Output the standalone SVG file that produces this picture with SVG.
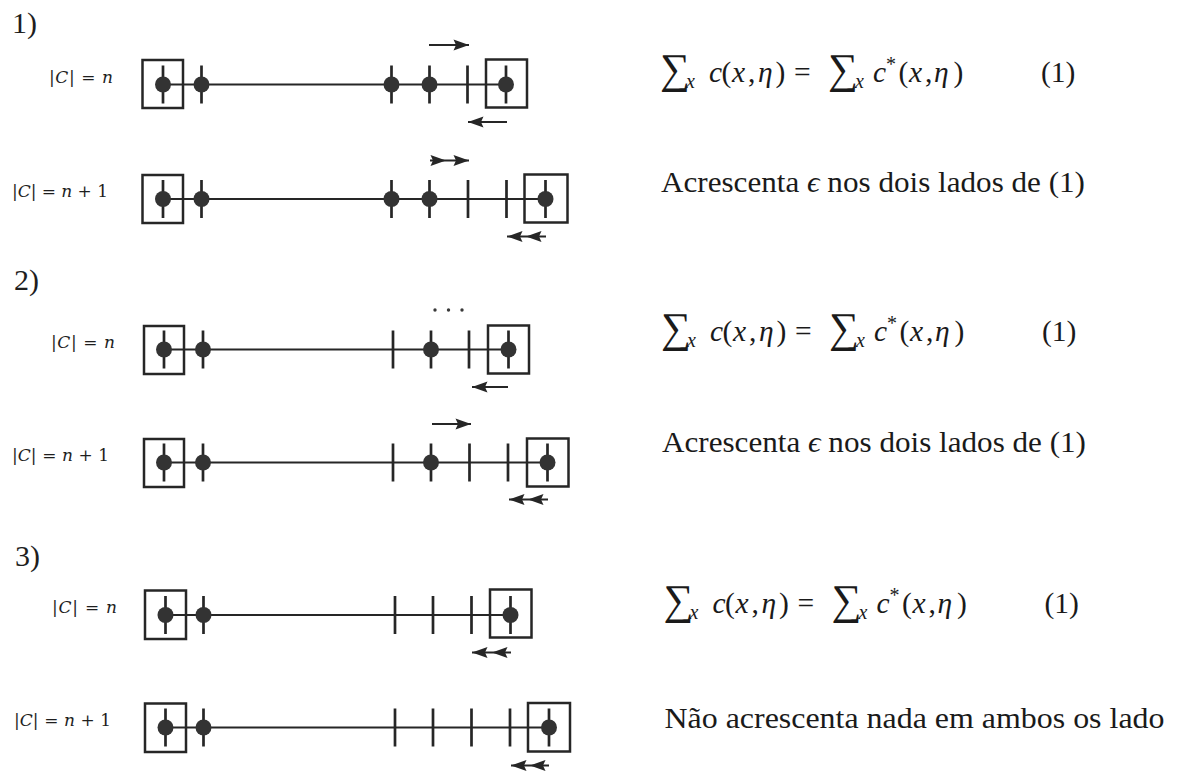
<svg xmlns="http://www.w3.org/2000/svg" width="1178" height="774" viewBox="0 0 1178 774">
<style>
.fr{fill:none;stroke:#262626;stroke-width:2.5}
.ln{stroke:#262626;stroke-width:2.1;fill:none}
.tk{stroke:#262626;stroke-width:2.7;fill:none}
.dt{fill:#333}
.ar{stroke:#262626;stroke-width:2.2;fill:none}
.lbl{font-family:"DejaVu Serif",serif;font-size:17px;fill:#1e1e1e}
.it{font-style:italic}
.tx{font-family:"Liberation Serif","DejaVu Serif",serif;font-size:29.5px;fill:#1a1a1a}
.sm{font-size:20px}
.sg{font-size:42px}
.sec{font-family:"Liberation Serif","DejaVu Serif",serif;font-size:30px;fill:#1e1e1e}
.el{fill:#3a3a3a}
</style>
<defs>
<marker id="ah" viewBox="-17 -7 18 14" refX="0" refY="0" markerWidth="18" markerHeight="14" markerUnits="userSpaceOnUse" orient="auto">
<path d="M0,0 L-15.5,-5.5 L-13,0 L-15.5,5.5 Z" fill="#262626"/>
</marker>
<g id="eq">
<text class="tx" y="0"><tspan x="-1" y="1" class="sg">∑</tspan><tspan x="25" y="6" class="sm it">x</tspan><tspan x="48" y="0" class="it">c</tspan><tspan x="60.5">(</tspan><tspan x="71" class="it">x</tspan><tspan x="87">,</tspan><tspan x="97" class="it">η</tspan><tspan x="114.5">)</tspan><tspan x="133">=</tspan><tspan x="167" y="1" class="sg">∑</tspan><tspan x="194" y="6" class="sm it">x</tspan><tspan x="212" y="0" class="it">c</tspan><tspan x="225" y="-11" class="sm">*</tspan><tspan x="237.5" y="0">(</tspan><tspan x="248" class="it">x</tspan><tspan x="264">,</tspan><tspan x="273" class="it">η</tspan><tspan x="292.5">)</tspan><tspan x="380">(1)</tspan></text>
</g>
</defs>

<g id="section-labels">
<text class="sec" x="12" y="32.5">1)</text>
<text class="sec" x="14" y="290">2)</text>
<text class="sec" x="15" y="565.5">3)</text>
</g>

<g id="row1-n">
<text class="lbl" x="49" y="83" textLength="64" lengthAdjust="spacing">|<tspan class="it">C</tspan>| = <tspan class="it">n</tspan></text>
<rect class="fr" x="142.5" y="60" width="40.5" height="48"/>
<rect class="fr" x="486" y="59.5" width="41" height="48"/>
<path class="ln" d="M163 84.5H506"/>
<path class="tk" d="M163 65.5V103.5M201.5 65.5V103.5M391.5 65.5V103.5M429.5 65.5V103.5M467.5 65.5V103.5M506 65.5V103.5"/>
<circle class="dt" cx="163" cy="84.5" r="8"/><circle class="dt" cx="201.5" cy="84.5" r="8"/><circle class="dt" cx="391.5" cy="84.5" r="8"/><circle class="dt" cx="429.5" cy="84.5" r="8"/><circle class="dt" cx="506" cy="84.5" r="8"/>
</g>

<g id="row1-n1">
<text class="lbl" x="12" y="197" textLength="96" lengthAdjust="spacing">|<tspan class="it">C</tspan>| = <tspan class="it">n</tspan> + 1</text>
<rect class="fr" x="142.5" y="175" width="40.5" height="48"/>
<rect class="fr" x="524.5" y="174.5" width="43" height="48"/>
<path class="ln" d="M163 199H545.5"/>
<path class="tk" d="M163 180V218M201.5 180V218M391.5 180V218M429.5 180V218M468 180V218M506.5 180V218M545.5 180V218"/>
<circle class="dt" cx="163" cy="199" r="8"/><circle class="dt" cx="201.5" cy="199" r="8"/><circle class="dt" cx="391.5" cy="199" r="8"/><circle class="dt" cx="429.5" cy="199" r="8"/><circle class="dt" cx="545.5" cy="199" r="8"/>
</g>

<g id="row2-n">
<text class="lbl" x="51" y="347.5" textLength="64" lengthAdjust="spacing">|<tspan class="it">C</tspan>| = <tspan class="it">n</tspan></text>
<rect class="fr" x="144" y="326" width="40" height="48"/>
<rect class="fr" x="488" y="325.5" width="41" height="48"/>
<path class="ln" d="M164 349.5H508.5"/>
<path class="tk" d="M164 330.5V368.5M203 330.5V368.5M393 330.5V368.5M431 330.5V368.5M469 330.5V368.5M508.5 330.5V368.5"/>
<circle class="dt" cx="164" cy="349.5" r="8"/><circle class="dt" cx="203" cy="349.5" r="8"/><circle class="dt" cx="431" cy="349.5" r="8"/><circle class="dt" cx="508.5" cy="349.5" r="8"/>
<circle class="el" cx="435" cy="310" r="1.7"/><circle class="el" cx="448.5" cy="310" r="1.7"/><circle class="el" cx="462" cy="310" r="1.7"/>
</g>

<g id="row2-n1">
<text class="lbl" x="12" y="460.5" textLength="97" lengthAdjust="spacing">|<tspan class="it">C</tspan>| = <tspan class="it">n</tspan> + 1</text>
<rect class="fr" x="144" y="439" width="40" height="48"/>
<rect class="fr" x="527" y="438.5" width="41.5" height="48"/>
<path class="ln" d="M164 462.5H547.5"/>
<path class="tk" d="M164 443.5V481.5M203 443.5V481.5M393 443.5V481.5M431 443.5V481.5M469.5 443.5V481.5M508 443.5V481.5M547.5 443.5V481.5"/>
<circle class="dt" cx="164" cy="462.5" r="8"/><circle class="dt" cx="203" cy="462.5" r="8"/><circle class="dt" cx="431" cy="462.5" r="8"/><circle class="dt" cx="547.5" cy="462.5" r="8"/>
</g>

<g id="row3-n">
<text class="lbl" x="52" y="613" textLength="65" lengthAdjust="spacing">|<tspan class="it">C</tspan>| = <tspan class="it">n</tspan></text>
<rect class="fr" x="145" y="590.5" width="41" height="48.5"/>
<rect class="fr" x="490" y="589.5" width="41.5" height="48"/>
<path class="ln" d="M165.5 615H510.5"/>
<path class="tk" d="M165.5 596V634M203.5 596V634M395 596V634M433 596V634M471.5 596V634M510.5 596V634"/>
<circle class="dt" cx="165.5" cy="615" r="8"/><circle class="dt" cx="203.5" cy="615" r="8"/><circle class="dt" cx="510.5" cy="615" r="8"/>
</g>

<g id="row3-n1">
<text class="lbl" x="14" y="725.5" textLength="97" lengthAdjust="spacing">|<tspan class="it">C</tspan>| = <tspan class="it">n</tspan> + 1</text>
<rect class="fr" x="145" y="703.5" width="41" height="48.5"/>
<rect class="fr" x="528" y="703" width="42" height="48.5"/>
<path class="ln" d="M165.5 727.5H549"/>
<path class="tk" d="M165.5 708.5V746.5M203.5 708.5V746.5M395 708.5V746.5M433 708.5V746.5M471.5 708.5V746.5M510 708.5V746.5M549 708.5V746.5"/>
<circle class="dt" cx="165.5" cy="727.5" r="8"/><circle class="dt" cx="203.5" cy="727.5" r="8"/><circle class="dt" cx="549" cy="727.5" r="8"/>
</g>

<g id="connectors">
<path class="ar" d="M429 45L469 45" marker-end="url(#ah)"/>
<path class="ar" d="M507 122L468 122" marker-end="url(#ah)"/>
<path class="ar" d="M430 160.5L446 160.5L469 160.5" marker-mid="url(#ah)" marker-end="url(#ah)"/>
<path class="ar" d="M546 236.5L526 236.5L507 236.5" marker-mid="url(#ah)" marker-end="url(#ah)"/>
<path class="ar" d="M508 387L472 387" marker-end="url(#ah)"/>
<path class="ar" d="M432 424L471 424" marker-end="url(#ah)"/>
<path class="ar" d="M548 499.5L528 499.5L509 499.5" marker-mid="url(#ah)" marker-end="url(#ah)"/>
<path class="ar" d="M511 652.5L492 652.5L472 652.5" marker-mid="url(#ah)" marker-end="url(#ah)"/>
<path class="ar" d="M549 765.5L530 765.5L511 765.5" marker-mid="url(#ah)" marker-end="url(#ah)"/>
</g>

<g id="eq-row1" transform="translate(661 82)"><use href="#eq"/></g>
<g id="note-row1"><text class="tx" x="661" y="192" textLength="424" lengthAdjust="spacingAndGlyphs">Acrescenta <tspan class="it">ϵ</tspan> nos dois lados de (1)</text></g>
<g id="eq-row2" transform="translate(662 340.5)"><use href="#eq"/></g>
<g id="note-row2"><text class="tx" x="662" y="452" textLength="424" lengthAdjust="spacingAndGlyphs">Acrescenta <tspan class="it">ϵ</tspan> nos dois lados de (1)</text></g>
<g id="eq-row3" transform="translate(664.5 612.5)"><use href="#eq"/></g>
<g id="note-row3"><text class="tx" x="664.5" y="728" textLength="500" lengthAdjust="spacingAndGlyphs">Não acrescenta nada em ambos os lado</text></g>
</svg>
